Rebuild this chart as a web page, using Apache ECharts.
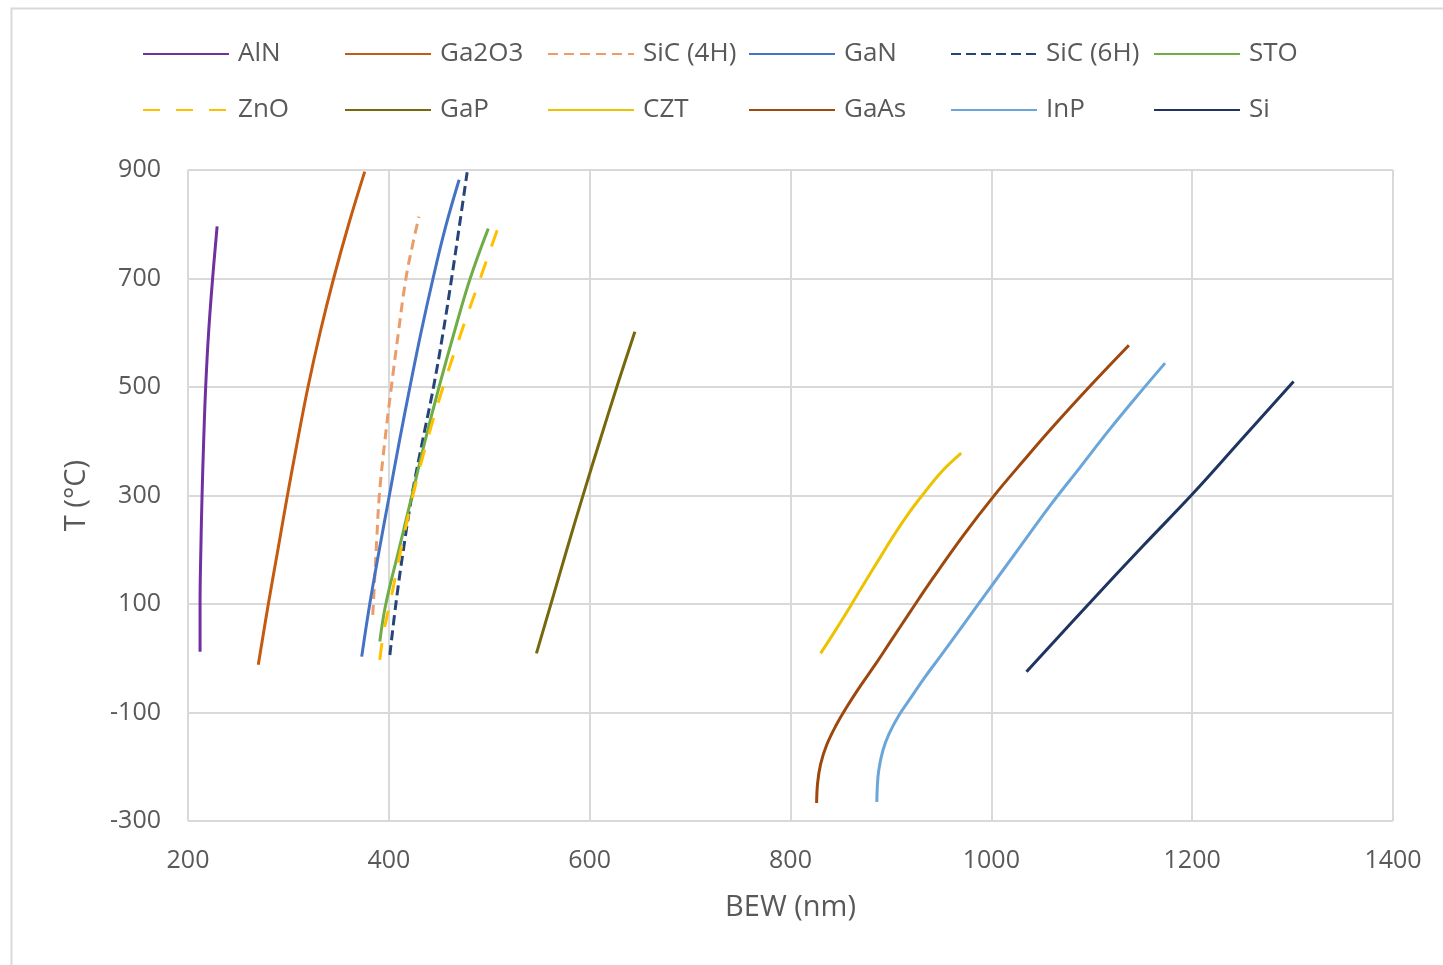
<!DOCTYPE html>
<html>
<head>
<meta charset="utf-8">
<script src="https://cdn.jsdelivr.net/npm/echarts@6/dist/echarts.min.js"></script>
<style>
html,body{margin:0;padding:0;background:#fff;}
#chart{width:1443px;height:965px;}
</style>
</head>
<body>
<div id="chart"></div>
<script>
// ---- Data (BEW in nm, T in °C) ----
const names = ['AlN','Ga2O3','SiC (4H)','GaN','SiC (6H)','STO','ZnO','GaP','CZT','GaAs','InP','Si'];
const AlN = [[212,12],[212,100],[212.8,200],[214,300],[215.6,400],[217.6,500],[220.5,600],[224.5,700],[229,796]];
const Ga2O3 = [[270,-12],[280,100],[290,205],[299,300],[309,400],[319.5,500],[331.5,600],[345,700],[360,800],[376,897]];
const SiC4H = [[384,80],[386,150],[388,220],[390.5,300],[396,400],[402.5,500],[409.5,600],[417,700],[424,765],[430,814]];
const GaN = [[373,3],[381,100],[390.5,200],[400.5,300],[410.5,400],[421,500],[432,600],[444,700],[456.5,795],[470,882]];
const SiC6H = [[401,6],[407,100],[414.5,200],[423,300],[433.5,400],[444.5,500],[454,600],[462.5,700],[470.5,800],[478,896]];
const STO = [[391,31],[397,100],[410,200],[423,300],[436,400],[450,500],[465,600],[481,700],[499,792]];
const ZnO = [[391,-3],[395,50],[401,100],[412,200],[424,300],[438,400],[454,500],[472,600],[491,700],[509,795]];
const GaP = [[547,9],[563,110],[578,205],[594,304],[610,400],[627,500],[645,602]];
const CZT = [[830,9],[846,55],[861,100],[875,143],[889,185],[903,227],[918,268],[932,302],[950,343],[970,378]];
const GaAs = [[826,-267],[827,-230],[830,-195],[836,-160],[845,-125],[856,-90],[870,-50],[885,-10],[900,32],[919,85],[942,148],[972,226],[1002,298],[1032,364],[1062,428],[1100,505],[1137,577]];
const InP = [[886,-265],[886.5,-235],[888,-205],[892,-170],[898,-140],[908,-105],[919,-75],[933,-37],[949,3],[973,64],[997,125],[1028,204],[1060,285],[1088,351],[1117,420],[1145,483],[1173,544]];
const Si = [[1035,-25],[1100,106],[1150,205],[1201,304],[1250,405],[1301,510]];
const seriesData = [AlN, Ga2O3, SiC4H, GaN, SiC6H, STO, ZnO, GaP, CZT, GaAs, InP, Si];
const xTicks = [200,400,600,800,1000,1200,1400];
const yTicks = [-300,-100,100,300,500,700,900];

// ---- Styles ----
const colors = ['#7030A0','#C55A11','#EB9C68','#4472C4','#264478','#70AD47','#FFC000','#78680C','#EDC200','#9E480E','#6AA6DA','#1F3461'];
const dashes = [null,null,[10,6],null,[10,5],null,[17,16],null,null,null,null,null];
const font = '"Open Sans", "Liberation Sans", sans-serif';
const textColor = '#595959';

const series = seriesData.map((d, i) => ({
  name: names[i],
  type: 'line',
  data: d,
  smooth: 0.4,
  symbol: 'none',
  showSymbol: false,
  color: colors[i],
  lineStyle: { width: 3, color: colors[i], type: dashes[i] || 'solid' },
  z: 3
}));

const legendX = [142, 344, 547, 748, 950, 1153];
const legendY = [54, 110];
const legends = names.map((n, i) => ({
  data: [n],
  left: legendX[i % 6],
  top: legendY[Math.floor(i / 6)] - 15,
  padding: 0,
  itemWidth: 86,
  itemHeight: 30,
  itemGap: 0,
  itemStyle: { opacity: 0 },
  textStyle: { fontFamily: font, fontSize: 26, color: textColor, lineHeight: 30, padding: [0,0,0,4] },
  selectedMode: false
}));

const chart = echarts.init(document.getElementById('chart'), null, { renderer: 'canvas' });
chart.setOption({
  backgroundColor: '#fff',
  animation: false,
  graphic: [{
    type: 'rect', left: 9, top: 6, z: -1,
    shape: { width: 1460, height: 990 },
    style: { fill: 'none', stroke: '#d9d9d9', lineWidth: 2 }
  }],
  legend: legends,
  grid: { left: 188, right: 50, top: 170, bottom: 144, containLabel: false },
  xAxis: {
    type: 'value', min: xTicks[0], max: xTicks[xTicks.length - 1], interval: 200,
    name: 'BEW (nm)', nameLocation: 'middle', nameGap: 72,
    nameTextStyle: { fontFamily: font, fontSize: 29, color: textColor },
    axisLine: { show: false }, axisTick: { show: false },
    axisLabel: { fontFamily: font, fontSize: 25, color: textColor, margin: 27, formatter: v => String(v) },
    splitLine: { show: true, lineStyle: { color: '#d9d9d9', width: 2 } }
  },
  yAxis: {
    type: 'value', min: yTicks[0], max: yTicks[yTicks.length - 1], interval: 200,
    name: 'T (°C)', nameLocation: 'middle', nameGap: 97,
    nameTextStyle: { fontFamily: font, fontSize: 29, color: textColor },
    axisLine: { show: false }, axisTick: { show: false },
    axisLabel: { fontFamily: font, fontSize: 25, color: textColor, margin: 27, formatter: v => String(v) },
    splitLine: { show: true, lineStyle: { color: '#d9d9d9', width: 2 } }
  },
  series: series
});
</script>
</body>
</html>
